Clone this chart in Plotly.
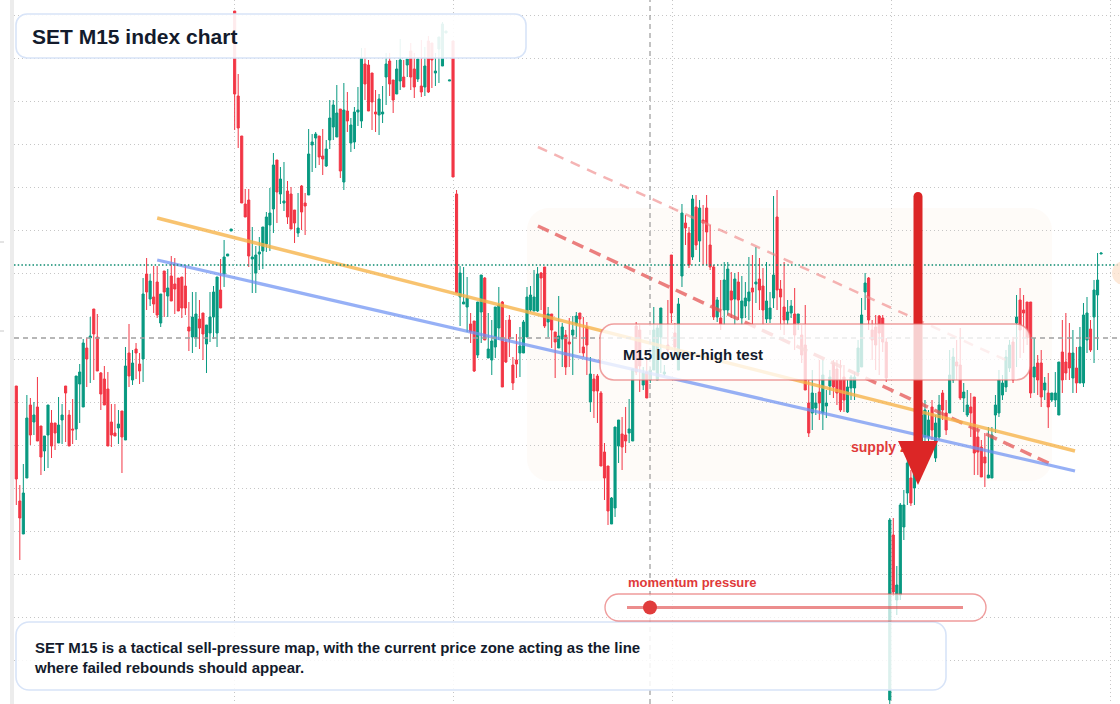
import plotly.graph_objects as go

# ---------------- data (M15 bars, index points) ----------------
open_ = [
    1361.4, 1349.9, 1346.6, 1352.2, 1359.5, 1357.8, 1359.3, 1357.4, 1354.9, 1356.5,
    1357.7, 1357.7, 1355.7, 1358.0, 1361.4, 1358.5, 1357.1, 1357.1, 1361.6, 1359.3,
    1365.2, 1366.2, 1369.1, 1366.3, 1362.7, 1362.1, 1361.1, 1357.8, 1356.7, 1357.2,
    1358.9, 1356.0, 1364.7, 1362.0, 1365.1, 1363.6, 1364.1, 1372.6, 1370.1, 1370.3,
    1371.8, 1367.7, 1372.9, 1370.4, 1372.4, 1371.6, 1372.2, 1372.3, 1371.4, 1367.3,
    1366.3, 1366.2, 1368.1, 1368.7, 1365.6, 1366.7, 1368.3, 1366.7, 1371.0, 1372.6,
    1374.4, 1376.9, 1398.9, 1390.4, 1386.4, 1379.6, 1380.0, 1374.1, 1372.7, 1374.6,
    1374.9, 1375.6, 1377.5, 1379.1, 1384.0, 1380.6, 1379.7, 1380.9, 1380.6, 1379.0,
    1376.7, 1381.4, 1379.7, 1380.5, 1385.5, 1386.2, 1386.4, 1384.4, 1383.4, 1386.0,
    1387.3, 1386.3, 1389.1, 1381.8, 1388.9, 1385.7, 1385.8, 1388.8, 1387.9, 1393.6,
    1393.5, 1392.7, 1388.8, 1388.5, 1388.6, 1392.3, 1393.9, 1392.0, 1390.6, 1391.9,
    1392.3, 1393.5, 1394.9, 1393.1, 1392.1, 1391.4, 1391.3, 1395.9, 1395.7, 1392.7,
    1395.1, 1393.4, 1396.7, 1391.9, 1395.9, 1380.6, 1370.3, 1369.6, 1369.3, 1367.6,
    1367.9, 1364.5, 1368.8, 1372.2, 1364.2, 1364.0, 1365.3, 1367.2, 1369.8, 1365.8,
    1368.0, 1363.5, 1364.0, 1364.7, 1364.7, 1366.3, 1369.0, 1368.9, 1368.9, 1372.7,
    1373.3, 1367.8, 1368.6, 1366.8, 1365.2, 1366.1, 1366.5, 1365.8, 1366.5, 1367.6,
    1368.7, 1365.3, 1367.3, 1359.8, 1362.1, 1362.4, 1360.7, 1354.8, 1353.4, 1347.6,
    1349.2, 1355.4, 1356.6, 1356.5, 1356.7, 1355.9, 1367.4, 1367.0, 1361.5, 1362.8,
    1362.0, 1363.0, 1362.0, 1366.3, 1362.6, 1365.5, 1374.5, 1366.7, 1363.0, 1372.4,
    1377.7, 1376.7, 1374.3, 1379.3, 1375.9, 1378.0, 1379.2, 1375.5, 1373.3, 1368.3,
    1368.2, 1369.0, 1369.0, 1370.9, 1370.1, 1371.8, 1368.2, 1369.4, 1369.9, 1371.2,
    1371.6, 1372.1, 1371.4, 1368.1, 1368.1, 1370.2, 1378.3, 1371.1, 1369.3, 1368.0,
    1368.7, 1368.6, 1367.7, 1366.5, 1365.5, 1359.7, 1358.7, 1359.2, 1360.8, 1358.7,
    1359.4, 1361.4, 1363.7, 1363.1, 1362.0, 1362.3, 1358.8, 1361.2, 1361.2, 1362.8,
    1363.3, 1370.8, 1372.2, 1367.0, 1367.3, 1368.4, 1368.2, 1365.8, 1330.0, 1346.5,
    1340.0, 1340.5, 1347.3, 1350.7, 1352.2, 1351.2, 1353.0, 1355.5, 1356.3, 1356.3,
    1359.3, 1354.2, 1356.3, 1360.7, 1358.7, 1358.7, 1362.0, 1363.8, 1363.5, 1360.2,
    1358.5, 1359.3, 1360.3, 1356.3, 1355.3, 1354.3, 1352.2, 1352.2, 1358.5, 1358.7,
    1360.5, 1361.3, 1363.2, 1365.8, 1367.7, 1370.0, 1369.0, 1369.8, 1369.8, 1362.3,
    1363.7, 1363.7, 1361.0, 1360.7, 1360.0, 1360.0, 1358.5, 1364.8, 1363.8, 1364.7,
    1362.2, 1363.2, 1361.7, 1361.7, 1366.0, 1367.1, 1368.3, 1370.5, 1374.6,
]
high = [
    1361.4, 1351.5, 1353.6, 1360.5, 1360.2, 1359.8, 1362.3, 1357.4, 1356.4, 1359.5,
    1359.0, 1357.7, 1360.3, 1359.6, 1361.4, 1359.0, 1360.1, 1362.4, 1363.6, 1366.1,
    1366.2, 1368.3, 1369.1, 1368.6, 1362.8, 1363.4, 1362.8, 1359.6, 1359.6, 1359.0,
    1358.9, 1365.3, 1367.6, 1365.0, 1365.7, 1364.7, 1372.2, 1374.2, 1372.6, 1373.4,
    1373.4, 1370.6, 1372.9, 1373.1, 1374.4, 1374.2, 1372.2, 1372.3, 1373.4, 1369.8,
    1370.8, 1370.8, 1370.0, 1368.7, 1367.5, 1370.8, 1371.4, 1372.3, 1374.1, 1376.0,
    1374.6, 1377.1, 1398.9, 1392.6, 1386.4, 1381.1, 1381.1, 1377.3, 1375.4, 1376.3,
    1377.3, 1378.8, 1381.2, 1384.7, 1384.0, 1383.3, 1383.8, 1381.9, 1381.3, 1379.0,
    1380.7, 1381.5, 1380.7, 1387.1, 1386.6, 1386.8, 1386.4, 1387.1, 1386.0, 1390.0,
    1390.0, 1391.5, 1389.1, 1391.7, 1390.8, 1388.2, 1389.3, 1391.3, 1395.2, 1395.2,
    1394.0, 1392.7, 1391.0, 1390.6, 1391.4, 1394.7, 1394.7, 1392.0, 1394.0, 1396.1,
    1394.0, 1394.1, 1395.7, 1394.7, 1394.3, 1396.0, 1395.3, 1396.4, 1395.7, 1394.7,
    1396.3, 1397.8, 1396.9, 1392.0, 1395.9, 1381.0, 1373.4, 1373.3, 1372.3, 1368.7,
    1367.9, 1369.8, 1372.5, 1372.3, 1368.7, 1368.0, 1369.3, 1371.3, 1369.9, 1368.0,
    1368.5, 1364.3, 1366.6, 1367.3, 1368.0, 1371.3, 1371.4, 1373.0, 1373.3, 1372.8,
    1373.3, 1369.3, 1368.6, 1366.8, 1370.4, 1367.7, 1367.0, 1368.2, 1368.4, 1368.8,
    1368.7, 1368.3, 1367.8, 1364.3, 1362.6, 1362.6, 1360.9, 1355.7, 1353.4, 1350.3,
    1357.3, 1358.0, 1358.3, 1359.3, 1360.1, 1363.1, 1367.8, 1367.5, 1363.3, 1364.0,
    1363.3, 1369.3, 1367.5, 1369.2, 1363.5, 1370.0, 1374.5, 1367.7, 1370.2, 1379.6,
    1378.5, 1377.3, 1380.5, 1380.5, 1380.0, 1379.5, 1380.5, 1377.5, 1373.5, 1370.3,
    1372.0, 1373.8, 1373.8, 1372.8, 1372.7, 1372.8, 1372.4, 1371.8, 1374.3, 1374.5,
    1375.3, 1374.2, 1373.2, 1373.8, 1370.8, 1380.4, 1381.0, 1372.0, 1373.8, 1370.0,
    1370.0, 1371.2, 1368.6, 1367.5, 1369.5, 1362.0, 1363.0, 1360.7, 1364.0, 1364.0,
    1361.0, 1363.0, 1364.0, 1364.0, 1364.0, 1363.5, 1362.0, 1362.5, 1362.8, 1366.0,
    1370.2, 1372.7, 1372.3, 1368.0, 1368.5, 1368.5, 1368.5, 1366.2, 1348.2, 1348.2,
    1343.4, 1349.7, 1351.0, 1354.2, 1353.0, 1354.5, 1357.0, 1361.0, 1360.0, 1359.0,
    1360.0, 1358.5, 1360.5, 1361.0, 1360.0, 1365.0, 1365.2, 1366.0, 1367.2, 1361.7,
    1361.0, 1360.7, 1360.3, 1357.3, 1356.0, 1356.7, 1357.3, 1357.3, 1360.5, 1363.0,
    1362.5, 1365.0, 1366.0, 1366.3, 1370.5, 1371.2, 1370.5, 1369.8, 1369.8, 1366.2,
    1364.5, 1365.0, 1362.3, 1362.7, 1360.7, 1362.8, 1363.8, 1368.0, 1368.7, 1367.7,
    1367.0, 1365.3, 1367.3, 1369.7, 1370.3, 1368.0, 1372.0, 1374.7, 1374.7,
]
low = [
    1349.5, 1344.0, 1346.6, 1352.2, 1355.5, 1356.5, 1355.9, 1352.5, 1352.9, 1353.2,
    1354.2, 1355.0, 1355.7, 1355.6, 1355.8, 1355.4, 1355.6, 1356.0, 1357.7, 1359.3,
    1361.3, 1361.7, 1362.0, 1362.9, 1359.0, 1359.5, 1355.4, 1355.3, 1356.4, 1355.6,
    1352.7, 1356.0, 1361.3, 1361.5, 1362.1, 1361.6, 1361.8, 1369.0, 1369.4, 1368.7,
    1368.2, 1367.3, 1368.3, 1368.3, 1369.9, 1368.6, 1368.9, 1368.2, 1368.5, 1364.9,
    1364.7, 1365.3, 1365.1, 1364.0, 1362.7, 1365.8, 1366.1, 1365.3, 1369.2, 1371.3,
    1374.4, 1376.9, 1387.0, 1385.2, 1379.7, 1378.3, 1373.3, 1370.7, 1370.7, 1373.0,
    1373.1, 1374.8, 1374.9, 1376.7, 1377.7, 1379.6, 1378.9, 1377.6, 1377.1, 1375.7,
    1376.3, 1377.0, 1376.5, 1380.5, 1382.8, 1383.2, 1383.5, 1382.5, 1383.3, 1385.1,
    1386.0, 1386.3, 1382.2, 1381.0, 1386.8, 1384.8, 1385.1, 1387.4, 1387.2, 1390.0,
    1388.9, 1387.0, 1386.8, 1386.5, 1387.7, 1389.5, 1390.4, 1388.7, 1390.6, 1391.0,
    1391.3, 1392.3, 1391.0, 1390.2, 1391.8, 1390.3, 1390.4, 1390.7, 1391.2, 1391.4,
    1391.7, 1393.4, 1396.7, 1391.9, 1382.3, 1370.7, 1367.4, 1369.6, 1366.8, 1365.7,
    1362.8, 1364.2, 1365.7, 1366.0, 1364.2, 1362.5, 1364.2, 1366.0, 1361.3, 1363.7,
    1364.3, 1361.0, 1362.2, 1362.3, 1364.7, 1366.3, 1368.8, 1368.9, 1368.8, 1369.0,
    1367.2, 1366.3, 1365.2, 1362.2, 1365.2, 1363.3, 1362.5, 1363.3, 1362.5, 1366.3,
    1364.7, 1364.3, 1362.5, 1358.8, 1358.2, 1357.7, 1353.4, 1350.0, 1347.5, 1347.6,
    1348.3, 1353.7, 1353.0, 1354.7, 1355.7, 1355.9, 1362.5, 1360.8, 1361.0, 1360.2,
    1361.7, 1363.0, 1362.0, 1362.7, 1362.4, 1364.0, 1367.7, 1364.7, 1363.0, 1371.3,
    1375.5, 1373.2, 1374.0, 1375.0, 1373.8, 1373.5, 1373.5, 1373.0, 1368.0, 1367.8,
    1367.0, 1367.5, 1368.5, 1368.2, 1367.5, 1368.0, 1367.5, 1368.2, 1368.0, 1367.5,
    1369.7, 1369.0, 1367.5, 1367.7, 1367.7, 1369.2, 1369.0, 1367.0, 1366.5, 1367.5,
    1368.2, 1365.0, 1367.0, 1363.7, 1361.0, 1356.3, 1357.0, 1358.5, 1358.0, 1357.0,
    1358.2, 1360.5, 1360.2, 1359.5, 1358.8, 1358.8, 1358.7, 1360.0, 1360.0, 1362.4,
    1363.3, 1369.0, 1367.0, 1364.0, 1363.0, 1362.5, 1364.8, 1361.8, 1329.6, 1340.4,
    1338.5, 1340.0, 1346.0, 1349.5, 1349.4, 1349.5, 1352.0, 1355.0, 1355.5, 1355.5,
    1356.0, 1353.8, 1356.0, 1358.0, 1356.5, 1358.7, 1361.7, 1362.0, 1360.0, 1358.8,
    1358.3, 1356.3, 1352.5, 1352.5, 1352.3, 1351.3, 1352.2, 1352.2, 1356.7, 1358.3,
    1360.0, 1360.8, 1362.8, 1361.7, 1363.3, 1364.2, 1364.7, 1365.5, 1360.2, 1360.7,
    1360.5, 1359.3, 1360.0, 1357.2, 1359.8, 1359.3, 1358.5, 1360.7, 1362.0, 1362.0,
    1360.7, 1360.7, 1361.7, 1361.3, 1364.7, 1364.8, 1363.7, 1365.0, 1374.6,
]
close = [
    1352.1, 1348.2, 1350.7, 1358.2, 1356.5, 1358.5, 1355.9, 1354.3, 1356.4, 1359.5,
    1355.4, 1356.7, 1357.5, 1358.5, 1360.7, 1355.4, 1357.0, 1362.4, 1362.8, 1365.7,
    1364.1, 1366.4, 1366.6, 1362.9, 1360.6, 1359.5, 1355.4, 1356.5, 1356.4, 1357.6,
    1356.3, 1363.4, 1362.4, 1363.7, 1364.7, 1362.9, 1370.6, 1370.8, 1371.9, 1369.6,
    1368.5, 1370.6, 1370.8, 1371.2, 1369.9, 1371.1, 1368.9, 1369.2, 1369.2, 1366.9,
    1368.3, 1368.6, 1367.2, 1366.6, 1367.5, 1368.3, 1370.8, 1372.3, 1369.2, 1374.3,
    1374.6, 1377.1, 1390.6, 1387.2, 1379.7, 1378.3, 1374.4, 1374.3, 1374.5, 1374.8,
    1377.3, 1378.3, 1378.7, 1383.5, 1380.8, 1382.1, 1379.9, 1378.3, 1377.1, 1377.7,
    1377.2, 1378.8, 1379.4, 1384.6, 1385.8, 1386.6, 1384.3, 1384.1, 1385.1, 1388.2,
    1389.5, 1388.7, 1382.9, 1389.0, 1387.9, 1387.5, 1388.8, 1389.0, 1394.2, 1391.6,
    1388.9, 1389.8, 1388.6, 1390.1, 1388.8, 1393.6, 1391.6, 1390.0, 1393.1, 1394.0,
    1391.3, 1394.1, 1392.3, 1391.3, 1394.1, 1390.8, 1393.4, 1390.8, 1394.0, 1392.9,
    1396.3, 1397.6, 1396.9, 1392.0, 1382.3, 1370.7, 1372.7, 1369.8, 1370.2, 1366.8,
    1362.9, 1369.8, 1372.5, 1366.0, 1365.1, 1365.9, 1369.3, 1369.5, 1361.3, 1363.8,
    1366.1, 1361.7, 1363.6, 1365.4, 1367.8, 1370.3, 1370.5, 1370.3, 1372.6, 1372.2,
    1367.4, 1368.6, 1367.0, 1365.8, 1366.4, 1367.3, 1363.3, 1365.6, 1367.0, 1368.4,
    1368.1, 1364.7, 1365.5, 1362.6, 1360.9, 1360.9, 1353.4, 1352.2, 1348.9, 1350.2,
    1357.3, 1358.0, 1355.3, 1355.9, 1357.1, 1363.1, 1362.8, 1363.4, 1362.7, 1360.2,
    1363.0, 1367.0, 1367.2, 1369.2, 1362.8, 1365.0, 1368.7, 1365.3, 1369.6, 1378.7,
    1377.2, 1373.5, 1380.1, 1375.5, 1379.2, 1377.7, 1376.8, 1373.3, 1368.3, 1370.0,
    1367.6, 1372.0, 1373.1, 1370.0, 1372.1, 1370.0, 1369.9, 1370.2, 1370.8, 1370.8,
    1371.8, 1371.0, 1369.0, 1369.9, 1369.2, 1372.5, 1371.0, 1370.3, 1368.0, 1368.8,
    1369.4, 1366.5, 1368.6, 1364.5, 1361.0, 1356.7, 1360.7, 1359.7, 1359.7, 1362.5,
    1359.7, 1362.3, 1361.3, 1360.7, 1359.0, 1360.0, 1361.3, 1362.3, 1362.3, 1365.2,
    1368.5, 1371.7, 1368.0, 1366.0, 1365.5, 1366.7, 1365.8, 1362.2, 1348.0, 1340.8,
    1341.5, 1349.5, 1349.5, 1353.7, 1349.7, 1353.0, 1355.5, 1358.5, 1359.0, 1358.0,
    1357.0, 1357.7, 1359.5, 1359.0, 1357.0, 1362.5, 1364.3, 1363.4, 1360.2, 1360.8,
    1359.5, 1358.7, 1354.7, 1354.8, 1352.3, 1353.7, 1352.5, 1356.5, 1359.5, 1362.0,
    1361.7, 1364.3, 1365.5, 1362.0, 1368.3, 1367.0, 1368.7, 1366.2, 1360.7, 1363.3,
    1362.0, 1360.3, 1361.7, 1359.3, 1360.7, 1360.7, 1363.8, 1362.0, 1362.7, 1363.2,
    1364.7, 1361.7, 1365.3, 1368.5, 1368.7, 1365.0, 1371.0, 1372.0, 1374.7,
]
n_bars = min(len(open_), len(high), len(low), len(close))
bar_index = list(range(n_bars))

# analyst drawings: (bar index, price)
resistance_x, resistance_y = [40, 300.6], [1378.2, 1354.9]
support_x, support_y = [40, 300.6], [1374.0, 1352.9]
upper_chan_x, upper_chan_y = [148.1, 282.2], [1385.3, 1363.8]
lower_chan_x, lower_chan_y = [148.1, 294.9], [1377.4, 1353.4]
supply_label_x, supply_label_y = 237.0, 1355.2

title_text = "SET M15 index chart"
box_text = "M15 lower-high test"
footer_text = ("SET M15 is a tactical sell-pressure map, with the current price zone acting as the line"
               "<br>where failed rebounds should appear.")
meter_label = "momentum pressure"
supply_text = "supply zone"

# ---------------- layout helpers (pixel -> paper) ----------------
W, H = 1120, 704
ML = 14
PW, PH = W - ML, H
FONT = "Liberation Sans, Arial, sans-serif"
INK = "#131b2c"
RED_TXT = "#e03a3a"


def PX(x):
    return (x - ML) / PW


def PY(y):
    return 1 - y / PH


def rrect(x0, y0, x1, y1, r):
    c = 0.5523 * r
    segs = [
        ("M", [(x0 + r, y0)]),
        ("L", [(x1 - r, y0)]),
        ("C", [(x1 - r + c, y0), (x1, y0 + r - c), (x1, y0 + r)]),
        ("L", [(x1, y1 - r)]),
        ("C", [(x1, y1 - r + c), (x1 - r + c, y1), (x1 - r, y1)]),
        ("L", [(x0 + r, y1)]),
        ("C", [(x0 + r - c, y1), (x0, y1 - r + c), (x0, y1 - r)]),
        ("L", [(x0, y0 + r)]),
        ("C", [(x0, y0 + r - c), (x0 + r - c, y0), (x0 + r, y0)]),
    ]
    s = ""
    for cmd, pts in segs:
        s += cmd + " ".join(f"{PX(x):.5f},{PY(y):.5f}" for x, y in pts) + " "
    return s + "Z"


def poly(pts):
    return "M" + " L".join(f"{PX(x):.5f},{PY(y):.5f}" for x, y in pts) + " Z"


fig = go.Figure()
fig.add_trace(go.Candlestick(
    x=bar_index, open=open_[:n_bars], high=high[:n_bars], low=low[:n_bars], close=close[:n_bars],
    increasing=dict(line=dict(color="#089981", width=1), fillcolor="#089981"),
    decreasing=dict(line=dict(color="#F23645", width=1), fillcolor="#F23645"),
    whiskerwidth=0, hoverinfo="skip", showlegend=False,
))
fig.add_trace(go.Scatter(
    x=[supply_label_x], y=[supply_label_y], mode="text", text=[f"<b>{supply_text}</b>"],
    textposition="middle right", textfont=dict(color=RED_TXT, size=14, family=FONT),
    hoverinfo="skip", showlegend=False,
))

shapes = []
# left stripe + tiny ticks
shapes.append(dict(type="rect", xref="paper", yref="paper", x0=PX(10), x1=PX(14), y0=0, y1=1,
                   fillcolor="#ececec", line=dict(width=0)))
for ty in (242, 331):
    shapes.append(dict(type="line", xref="paper", yref="paper", x0=PX(0), x1=PX(4), y0=PY(ty), y1=PY(ty),
                       line=dict(color="#c8c8c8", width=1)))
# supply zone backdrop
shapes.append(dict(type="path", xref="paper", yref="paper", path=rrect(527, 208, 1052, 481, 22),
                   fillcolor="rgba(250,230,214,0.16)", line=dict(width=0), layer="between"))
# channel / trend lines
shapes.append(dict(type="line", xref="x", yref="y", x0=upper_chan_x[0], y0=upper_chan_y[0],
                   x1=upper_chan_x[1], y1=upper_chan_y[1],
                   line=dict(color="rgba(238,130,130,0.6)", width=2.5, dash="10px,8px"), layer="above"))
shapes.append(dict(type="line", xref="x", yref="y", x0=lower_chan_x[0], y0=lower_chan_y[0],
                   x1=lower_chan_x[1], y1=lower_chan_y[1],
                   line=dict(color="rgba(228,85,85,0.75)", width=3.5, dash="12px,7px"), layer="above"))
shapes.append(dict(type="line", xref="x", yref="y", x0=resistance_x[0], y0=resistance_y[0],
                   x1=resistance_x[1], y1=resistance_y[1],
                   line=dict(color="rgba(246,178,70,0.78)", width=3.5), layer="above"))
shapes.append(dict(type="line", xref="x", yref="y", x0=support_x[0], y0=support_y[0],
                   x1=support_x[1], y1=support_y[1],
                   line=dict(color="rgba(110,145,242,0.72)", width=3.2), layer="above"))
# crosshair / last price
shapes.append(dict(type="line", xref="paper", yref="paper", x0=0, x1=1, y0=PY(265), y1=PY(265),
                   line=dict(color="#0b8a6f", width=1.5, dash="1.5px,2.2px"), layer="above"))
shapes.append(dict(type="line", xref="paper", yref="paper", x0=0, x1=1, y0=PY(338), y1=PY(338),
                   line=dict(color="#a0a0a0", width=1.6, dash="5px,4px"), layer="above"))
shapes.append(dict(type="line", xref="paper", yref="paper", x0=PX(650), x1=PX(650), y0=0, y1=1,
                   line=dict(color="#9a9a9a", width=1.2, dash="5px,4px"), layer="above"))
# title + footer cards
shapes.append(dict(type="path", xref="paper", yref="paper", path=rrect(16, 14, 526, 58, 11),
                   fillcolor="rgba(255,255,255,0.9)", line=dict(color="#d8e4f8", width=1.6), layer="above"))
shapes.append(dict(type="path", xref="paper", yref="paper", path=rrect(16, 622, 946, 690, 13),
                   fillcolor="rgba(255,255,255,0.86)", line=dict(color="#d8e4f8", width=1.6), layer="above"))
# red arrow
shapes.append(dict(type="path", xref="paper", yref="paper",
                   path=rrect(913.5, 192, 922.5, 445, 4.5), fillcolor="#dc2626", line=dict(width=0),
                   layer="above"))
shapes.append(dict(type="path", xref="paper", yref="paper",
                   path=poly([(898, 441), (938, 441), (918, 485)]), fillcolor="#dc2626",
                   line=dict(width=0), layer="above"))
# lower-high test card
shapes.append(dict(type="path", xref="paper", yref="paper", path=rrect(600, 324, 1030, 380, 14),
                   fillcolor="rgba(255,255,255,0.78)", line=dict(color="rgba(232,110,110,0.65)", width=1.6),
                   layer="above"))
# momentum meter
shapes.append(dict(type="path", xref="paper", yref="paper", path=rrect(605, 594, 986, 621, 13.5),
                   fillcolor="rgba(255,255,255,0.72)", line=dict(color="rgba(228,90,90,0.6)", width=1.4),
                   layer="above"))
shapes.append(dict(type="line", xref="paper", yref="paper", x0=PX(627), x1=PX(963), y0=PY(607.5), y1=PY(607.5),
                   line=dict(color="rgba(226,80,80,0.65)", width=3.2), layer="above"))
shapes.append(dict(type="circle", xref="paper", yref="paper", x0=PX(643), x1=PX(657), y0=PY(614.5), y1=PY(600.5),
                   fillcolor="#e03c3c", line=dict(width=0), layer="above"))
# off-edge marker
shapes.append(dict(type="circle", xref="paper", yref="paper", x0=PX(1112), x1=PX(1136), y0=PY(285), y1=PY(261),
                   fillcolor="rgba(252,226,204,0.75)", line=dict(width=0), layer="above"))

annotations = [
    dict(xref="paper", yref="paper", x=PX(30), y=PY(36), xanchor="left", yanchor="middle",
         text=f"<b>{title_text}</b>", showarrow=False, font=dict(size=21, color=INK, family=FONT)),
    dict(xref="paper", yref="paper", x=PX(621), y=PY(354), xanchor="left", yanchor="middle",
         text=f"<b>{box_text}</b>", showarrow=False, font=dict(size=15, color=INK, family=FONT)),
    dict(xref="paper", yref="paper", x=PX(31.5), y=PY(657), xanchor="left", yanchor="middle", align="left",
         text=f"<b>{footer_text}</b>", showarrow=False, font=dict(size=15, color=INK, family=FONT)),
    dict(xref="paper", yref="paper", x=PX(626), y=PY(582.5), xanchor="left", yanchor="middle",
         text=f"<b>{meter_label}</b>", showarrow=False, font=dict(size=13, color=RED_TXT, family=FONT)),
]

fig.update_layout(
    width=W, height=H,
    margin=dict(l=ML, r=0, t=0, b=0, pad=0),
    paper_bgcolor="white", plot_bgcolor="white",
    showlegend=False, hovermode=False, dragmode=False,
    shapes=shapes, annotations=annotations,
    boxgap=0.2, boxgroupgap=0.25,
)
grid_style = dict(showgrid=True, gridcolor="#c6c6c6", griddash="1px,3px", gridwidth=1,
                  showticklabels=False, ticks="", zeroline=False, showline=False, fixedrange=True)
fig.update_xaxes(range=[-0.653, 313.37], rangeslider=dict(visible=False), tick0=-0.37, dtick=62.2, **grid_style)
fig.update_yaxes(range=[1329.6, 1400.0], tick0=1398.5, dtick=4.3, **grid_style)

fig.write_html("out.html", config={"displayModeBar": False})
